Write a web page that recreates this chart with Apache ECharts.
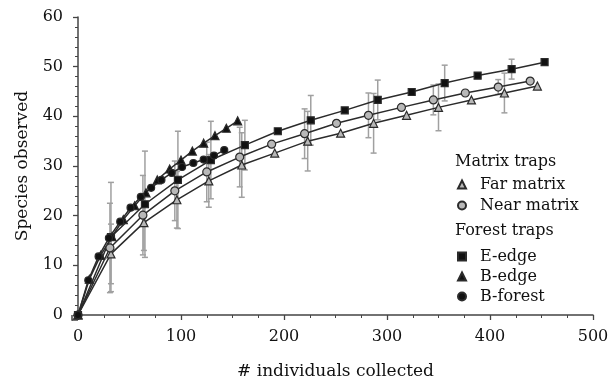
<!DOCTYPE html>
<html>
<head>
<meta charset="utf-8">
<script src="https://cdn.jsdelivr.net/npm/echarts@6/dist/echarts.min.js"></script>
<style>
  html, body { margin: 0; padding: 0; background: #fff; }
  #chart { width: 612px; height: 387px; }
</style>
</head>
<body>
<div id="chart"></div>
<script>
// x = individuals collected, y = species observed, err = +/- half width (null = no bar)
const farX = [0, 32, 64, 96, 127, 159, 191, 223, 255, 287, 319, 350, 382, 414, 446];
const farY = [0, 12.3, 18.6, 23.2, 27.0, 30.2, 32.6, 35.0, 36.6, 38.6, 40.2, 41.8, 43.3, 44.7, 46.1];
const farErr = [null, 6, 5.6, 5.7, 5.3, 6.5, null, 6, null, 6, null, 4.7, null, 4, null];

const nearX = [0, 31, 63, 94, 125, 157, 188, 220, 251, 282, 314, 345, 376, 408, 439];
const nearY = [0, 13.5, 20.1, 25.0, 28.8, 31.8, 34.4, 36.5, 38.6, 40.2, 41.8, 43.3, 44.7, 45.9, 47.1];
const nearErr = [null, 9, 8, 6, 6, 6, null, 5, null, 4.5, null, 3, null, 1.5, null];

const eEdgeX = [0, 32, 65, 97, 129, 162, 194, 226, 259, 291, 324, 356, 388, 421, 453];
const eEdgeY = [0, 15.7, 22.3, 27.2, 31.2, 34.2, 37.0, 39.2, 41.2, 43.3, 44.9, 46.7, 48.2, 49.5, 50.9];
const eEdgeErr = [null, 11, 10.7, 9.8, 7.8, 5, null, 5, null, 4, null, 3.6, null, 2, null];

const bEdgeX = [0, 11, 22, 33, 44, 55, 66, 77, 89, 100, 111, 122, 133, 144, 155];
const bEdgeY = [0, 7.2, 12.0, 15.8, 19.2, 22.0, 24.6, 27.2, 29.4, 31.2, 33.0, 34.6, 36.1, 37.6, 39.1];

const bForestX = [0, 10, 20, 30, 41, 51, 61, 71, 81, 91, 101, 112, 122, 132, 142];
const bForestY = [0, 7.0, 11.8, 15.5, 18.8, 21.6, 23.8, 25.6, 27.2, 28.6, 29.8, 30.6, 31.3, 32.1, 33.2];

const FONT = '"DejaVu Serif", "Liberation Serif", serif';
const INK = '#2b2b2b';
const BAR = '#a0a0a0';
const AXIS = '#444';

const pairs = (xs, ys) => xs.map((x, i) => [x, ys[i]]);
const errRows = (xs, ys, es) =>
  xs.map((x, i) => (es[i] == null ? null : [x, ys[i] - es[i], ys[i] + es[i]])).filter(Boolean);

function renderErr(params, api) {
  const x = api.value(0);
  const top = api.coord([x, api.value(2)]);
  const bot = api.coord([x, api.value(1)]);
  const c = 3;
  const st = { stroke: BAR, lineWidth: 1.5 };
  return {
    type: 'group',
    children: [
      { type: 'line', shape: { x1: top[0], y1: top[1], x2: bot[0], y2: bot[1] }, style: st },
      { type: 'line', shape: { x1: top[0] - c, y1: top[1], x2: top[0] + c, y2: top[1] }, style: st },
      { type: 'line', shape: { x1: bot[0] - c, y1: bot[1], x2: bot[0] + c, y2: bot[1] }, style: st }
    ]
  };
}

const errSeries = (data) => ({
  type: 'custom',
  renderItem: renderErr,
  data: data,
  encode: { x: 0, y: [1, 2] },
  silent: true,
  z: 1,
  clip: false
});

const lineSeries = (name, data, symbol, size, fill) => ({
  name: name,
  type: 'line',
  data: data,
  symbol: symbol,
  symbolSize: size,
  showAllSymbol: true,
  lineStyle: { color: INK, width: 1.5 },
  itemStyle: { color: fill, borderColor: INK, borderWidth: 1.2, opacity: 1 },
  z: 3,
  animation: false
});

const legendText = { fontFamily: FONT, fontSize: 16, color: '#111', lineHeight: 19, padding: [0, 0, 0, 9] };

const chart = echarts.init(document.getElementById('chart'), null, { renderer: 'canvas' });

const option = {
  backgroundColor: '#fff',
  animation: false,
  textStyle: { fontFamily: FONT },
  grid: { left: 78, right: 19, top: 17, bottom: 72, containLabel: false },
  xAxis: {
    type: 'value',
    min: 0,
    max: 500,
    interval: 100,
    offset: 5,
    name: '# individuals collected',
    nameLocation: 'middle',
    nameGap: 43,
    nameTextStyle: { fontFamily: FONT, fontSize: 17, color: '#111' },
    axisLine: { show: true, lineStyle: { color: AXIS, width: 1.5 } },
    axisTick: { show: true, length: 5, lineStyle: { color: AXIS, width: 1.3 } },
    minorTick: { show: true, splitNumber: 4, length: 3, lineStyle: { color: AXIS, width: 1 } },
    axisLabel: { fontFamily: FONT, fontSize: 16, color: '#111', margin: 9 },
    splitLine: { show: false }
  },
  yAxis: {
    type: 'value',
    min: 0,
    max: 60,
    interval: 10,
    offset: 6,
    name: 'Species observed',
    nameLocation: 'middle',
    nameGap: 41,
    nameTextStyle: { fontFamily: FONT, fontSize: 17, color: '#111' },
    axisLine: { show: true, lineStyle: { color: AXIS, width: 1.5 } },
    axisTick: { show: true, length: 5, lineStyle: { color: AXIS, width: 1.3 } },
    minorTick: { show: true, splitNumber: 5, length: 3, lineStyle: { color: AXIS, width: 1 } },
    axisLabel: { fontFamily: FONT, fontSize: 16, color: '#111', margin: 9 },
    splitLine: { show: false }
  },
  legend: [
    {
      left: 457,
      top: 175,
      orient: 'vertical',
      padding: 0,
      itemGap: 2,
      itemWidth: 8,
      itemHeight: 8,
      textStyle: legendText,
      data: [
        { name: 'Far matrix', icon: 'triangle' },
        { name: 'Near matrix', icon: 'circle' }
      ],
      selectedMode: false
    },
    {
      left: 457,
      top: 247,
      orient: 'vertical',
      padding: 0,
      itemGap: 1,
      itemWidth: 8,
      itemHeight: 8,
      textStyle: legendText,
      data: [
        { name: 'E-edge', icon: 'rect' },
        { name: 'B-edge', icon: 'triangle' },
        { name: 'B-forest', icon: 'circle' }
      ],
      selectedMode: false
    }
  ],
  graphic: [
    { type: 'text', left: 455, top: 154, style: { text: 'Matrix traps', font: '16px ' + FONT, fill: '#111' } },
    { type: 'text', left: 455, top: 223, style: { text: 'Forest traps', font: '16px ' + FONT, fill: '#111' } },
    // close the corner between the offset axes
    { type: 'line', shape: { x1: 72, y1: 320, x2: 78, y2: 320 }, style: { stroke: AXIS, lineWidth: 1.5 } },
    { type: 'line', shape: { x1: 72, y1: 315, x2: 72, y2: 320.75 }, style: { stroke: AXIS, lineWidth: 1.5 } }
  ],
  series: [
    errSeries(errRows(farX, farY, farErr)),
    errSeries(errRows(nearX, nearY, nearErr)),
    errSeries(errRows(eEdgeX, eEdgeY, eEdgeErr)),
    lineSeries('Far matrix', pairs(farX, farY), 'triangle', 8, '#b8b8b8'),
    lineSeries('Near matrix', pairs(nearX, nearY), 'circle', 8, '#b8b8b8'),
    lineSeries('E-edge', pairs(eEdgeX, eEdgeY), 'rect', 7, '#111'),
    lineSeries('B-edge', pairs(bEdgeX, bEdgeY), 'triangle', 8, '#111'),
    lineSeries('B-forest', pairs(bForestX, bForestY), 'circle', 7, '#111')
  ]
};

chart.setOption(option);
</script>
</body>
</html>
